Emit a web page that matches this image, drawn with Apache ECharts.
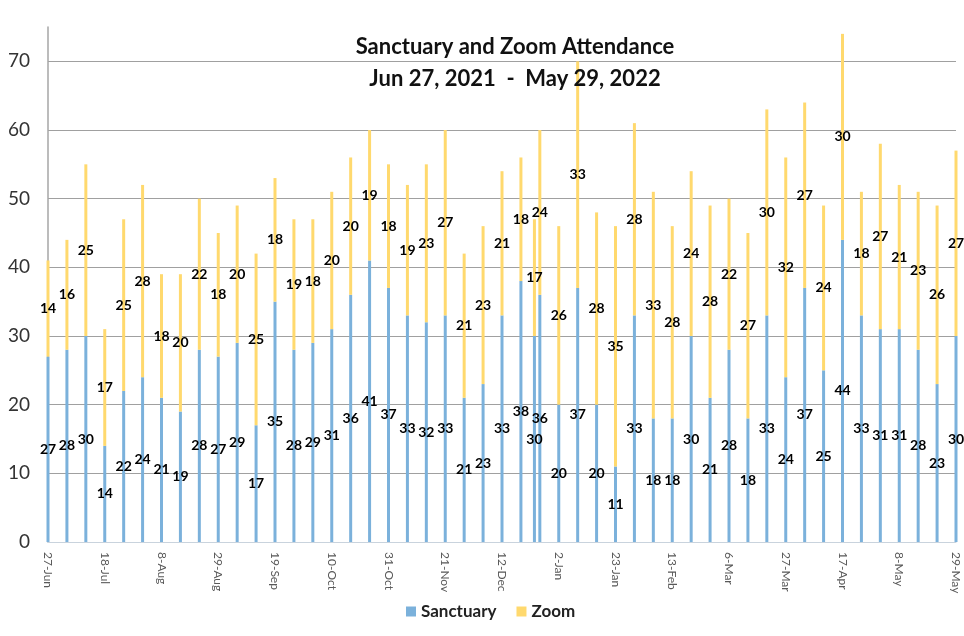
<!DOCTYPE html>
<html>
<head>
<meta charset="utf-8">
<script src="https://cdn.jsdelivr.net/npm/echarts@6/dist/echarts.min.js"></script>
<style>html,body{margin:0;padding:0;background:#fff;}#c{width:964px;height:636px;}</style>
</head>
<body>
<div id="c"></div>
<script>
const dates = ["2021-06-27","2021-07-04","2021-07-11","2021-07-18","2021-07-25","2021-08-01","2021-08-08","2021-08-15","2021-08-22","2021-08-29","2021-09-05","2021-09-12","2021-09-19","2021-09-26","2021-10-03","2021-10-10","2021-10-17","2021-10-24","2021-10-31","2021-11-07","2021-11-14","2021-11-21","2021-11-28","2021-12-05","2021-12-12","2021-12-19","2021-12-24","2021-12-26","2022-01-02","2022-01-09","2022-01-16","2022-01-23","2022-01-30","2022-02-06","2022-02-13","2022-02-20","2022-02-27","2022-03-06","2022-03-13","2022-03-20","2022-03-27","2022-04-03","2022-04-10","2022-04-17","2022-04-24","2022-05-01","2022-05-08","2022-05-15","2022-05-22","2022-05-29"];
const sanctuary = [27,28,30,14,22,24,21,19,28,27,29,17,35,28,29,31,36,41,37,33,32,33,21,23,33,38,30,36,20,37,20,11,33,18,18,30,21,28,18,33,24,37,25,44,33,31,31,28,23,30];
const zoom = [14,16,25,17,25,28,18,20,22,18,20,25,18,19,18,20,20,19,18,19,23,27,21,23,21,18,17,24,26,33,28,35,28,33,28,24,28,22,27,30,32,27,24,30,18,27,21,23,26,27];
const tickEveryDays = 21;
const months = ["Jan","Feb","Mar","Apr","May","Jun","Jul","Aug","Sep","Oct","Nov","Dec"];

// build a daily category axis so the irregular dates (e.g. 24-Dec) sit at their true positions
const DAY = 86400000;
const t0 = Date.parse(dates[0] + "T00:00:00Z");
const dayOff = d => Math.round((Date.parse(d + "T00:00:00Z") - t0) / DAY);
const nDays = dayOff(dates[dates.length - 1]) + 1;
const dayCats = [];
for (let i = 0; i < nDays; i++) {
  const d = new Date(t0 + i * DAY);
  dayCats.push(d.getUTCDate() + '-' + months[d.getUTCMonth()]);
}
const sData = new Array(nDays).fill('-');
const zData = new Array(nDays).fill('-');
dates.forEach((d, i) => { const k = dayOff(d); sData[k] = sanctuary[i]; zData[k] = zoom[i]; });

const chart = echarts.init(document.getElementById('c'));
const lbl = {show: true, position: 'inside', color: '#000', fontFamily: 'Lato', fontWeight: 'bold', fontSize: 14};
chart.setOption({
  animation: false,
  title: {
    text: 'Sanctuary and Zoom Attendance\nJun 27, 2021  -  May 29, 2022',
    left: 510, top: 26, textAlign: 'center',
    textStyle: {fontFamily: 'Lato', fontWeight: 'bold', fontSize: 22, color: '#111', lineHeight: 32}
  },
  legend: {
    bottom: 11, left: 401, itemWidth: 10, itemHeight: 10, itemGap: 20, icon: 'rect',
    textStyle: {fontFamily: 'Lato', fontWeight: 'bold', fontSize: 17, color: '#222'},
    data: ['Sanctuary', 'Zoom']
  },
  grid: {left: 48, right: 8, top: 27, bottom: 94, containLabel: false},
  xAxis: {
    type: 'category', data: dayCats, boundaryGap: false,
    axisLine: {show: true, lineStyle: {color: '#C9D3DD', width: 1}},
    axisTick: {show: false},
    splitLine: {show: false},
    axisLabel: {
      rotate: -90, margin: 10, color: '#595959', fontFamily: 'Lato', fontSize: 12,
      interval: (idx) => idx % tickEveryDays === 0
    }
  },
  yAxis: {
    type: 'value', min: 0, max: 75, interval: 10,
    axisLine: {show: true, lineStyle: {color: '#A6A6A6', width: 1.5}},
    axisTick: {show: false},
    splitLine: {show: true, showMaxLine: false, lineStyle: {color: '#A0A0A0', width: 1}},
    axisLabel: {showMaxLabel: false, color: '#333', fontFamily: 'Lato', fontSize: 19, margin: 18}
  },
  series: [
    {name: 'Sanctuary', type: 'bar', stack: 'a', data: sData, barWidth: 3, clip: false,
     itemStyle: {color: '#7BB1DB'}, label: lbl},
    {name: 'Zoom', type: 'bar', stack: 'a', data: zData, barWidth: 3, clip: false,
     itemStyle: {color: '#FFD96E'}, label: lbl}
  ]
});
</script>
</body>
</html>
